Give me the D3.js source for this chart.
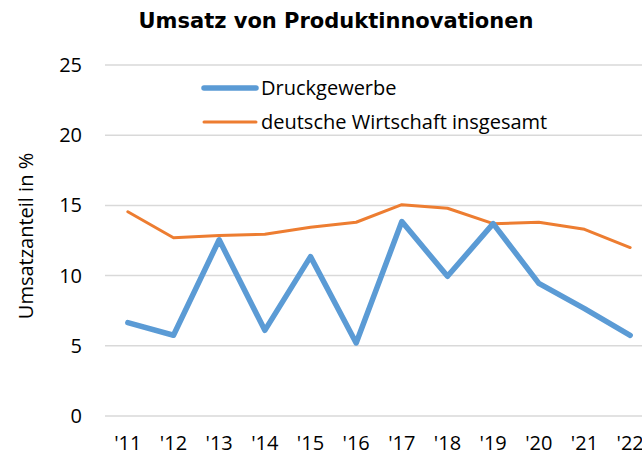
<!DOCTYPE html>
<html>
<head>
<meta charset="utf-8">
<script src="https://cdn.jsdelivr.net/npm/d3@7"></script>
<style>
  body { margin: 0; background: #fff; }
  svg text { font-family: "Open Sans", "Noto Sans", sans-serif; fill: #000; }
</style>
</head>
<body>
<svg id="chart" width="642" height="456"></svg>
<script>
// data
const years = ["'11", "'12", "'13", "'14", "'15", "'16", "'17", "'18", "'19", "'20", "'21", "'22"]
const druckgewerbe = [6.65, 5.75, 12.55, 6.1, 11.35, 5.2, 13.85, 9.95, 13.7, 9.45, 7.65, 5.75]
const wirtschaft = [14.55, 12.7, 12.85, 12.95, 13.45, 13.8, 15.05, 14.8, 13.7, 13.8, 13.3, 12.0]
const yTicks = [0, 5, 10, 15, 20, 25]

const svg = d3.select('#chart')
const margin = {top: 65, left: 105}
const plotRight = 653
const plotBottom = 416
const fontSize = 20

const x = d3.scaleBand()
  .domain(years)
  .range([margin.left, plotRight])
const y = d3.scaleLinear()
  .domain([0, 25])
  .range([plotBottom, margin.top])

// gridlines
svg.append('g')
  .selectAll('line')
  .data(yTicks)
  .join('line')
    .attr('x1', margin.left)
    .attr('x2', plotRight)
    .attr('y1', d => y(d))
    .attr('y2', d => y(d))
    .attr('stroke', '#d9d9d9')
    .attr('stroke-width', 1.5)

// y tick labels
svg.append('g')
  .selectAll('text')
  .data(yTicks)
  .join('text')
    .attr('x', 82)
    .attr('y', d => y(d))
    .attr('dy', '0.35em')
    .attr('text-anchor', 'end')
    .attr('font-size', fontSize)
    .text(d => d)

// x tick labels
svg.append('g')
  .selectAll('text')
  .data(years)
  .join('text')
    .attr('x', d => x(d) + x.bandwidth() / 2)
    .attr('y', 450)
    .attr('text-anchor', 'middle')
    .attr('font-size', fontSize)
    .text(d => d)

const line = d3.line()
  .x((d, i) => x(years[i]) + x.bandwidth() / 2)
  .y(d => y(d))

svg.append('path')
  .datum(wirtschaft)
  .attr('d', line)
  .attr('fill', 'none')
  .attr('stroke', '#ED7D31')
  .attr('stroke-width', 3)
  .attr('stroke-linejoin', 'round')
  .attr('stroke-linecap', 'round')

svg.append('path')
  .datum(druckgewerbe)
  .attr('d', line)
  .attr('fill', 'none')
  .attr('stroke', '#5B9BD5')
  .attr('stroke-width', 5.5)
  .attr('stroke-linejoin', 'round')
  .attr('stroke-linecap', 'round')

// title
svg.append('text')
  .attr('x', 336)
  .attr('y', 28)
  .attr('text-anchor', 'middle')
  .attr('font-size', 21)
  .attr('font-weight', 'bold')
  .style('font-family', '"DejaVu Sans", sans-serif')
  .text('Umsatz von Produktinnovationen')

// y axis title
svg.append('text')
  .attr('transform', 'translate(33, 236) rotate(-90)')
  .attr('text-anchor', 'middle')
  .attr('font-size', fontSize)
  .text('Umsatzanteil in %')

// legend
const legend = [
  {name: 'Druckgewerbe', color: '#5B9BD5', width: 5.5, y: 88},
  {name: 'deutsche Wirtschaft insgesamt', color: '#ED7D31', width: 3, y: 122}
]
const lg = svg.append('g')
lg.selectAll('line')
  .data(legend)
  .join('line')
    .attr('x1', 204)
    .attr('x2', 256)
    .attr('y1', d => d.y)
    .attr('y2', d => d.y)
    .attr('stroke', d => d.color)
    .attr('stroke-width', d => d.width)
    .attr('stroke-linecap', 'round')
lg.selectAll('text')
  .data(legend)
  .join('text')
    .attr('x', 261)
    .attr('y', d => d.y)
    .attr('dy', '0.35em')
    .attr('font-size', fontSize)
    .text(d => d.name)
</script>
</body>
</html>
